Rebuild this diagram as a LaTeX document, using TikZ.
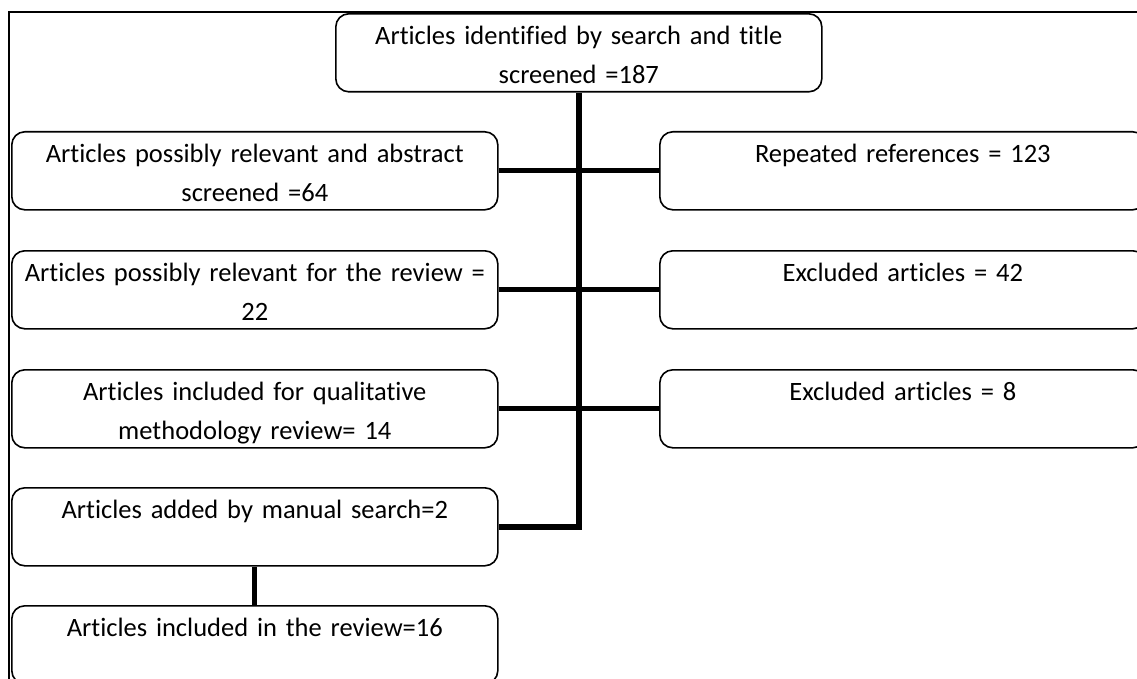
\documentclass[tikz,border=0pt]{standalone}
\usepackage{fontspec}
\setmainfont{Carlito}[Ligatures=NoCommon]
\begin{document}
\begin{tikzpicture}[x=1pt,y=-1pt,
  flowbox/.style={draw=black, line width=1.6pt, rounded corners=13pt, anchor=north west,
    text width=486pt, align=center, inner xsep=0pt, inner ysep=0pt,
    text height=30.5pt, text depth=47.5pt,
    font=\fontsize{26.5}{39}\selectfont},
  trunkline/.style={line width=5.5pt, line join=miter, line cap=butt},
  linkline/.style={line width=5pt}]
\useasboundingbox (0,0) rectangle (1137,679);
\clip (0,0) rectangle (1137,679);
% outer frame
\draw[line width=1.4pt] (9,12) rectangle (1160,700);
% boxes
\node[flowbox] (top) at (335,13) {Articles identified by search and title\\screened =187};
\node[flowbox] (L1) at (11,131) {Articles possibly relevant and abstract\\screened =64};
\node[flowbox] (L2) at (11,250) {Articles possibly relevant for the review =\\22};
\node[flowbox] (L3) at (11,369) {Articles included for qualitative\\methodology review= 14};
\node[flowbox] (L4) at (11,487) {Articles added by manual search=2};
\node[flowbox] (L5) at (11,605) {Articles included in the review=16};
\node[flowbox] (R1) at (659,131) {Repeated references = 123};
\node[flowbox] (R2) at (659,250) {Excluded articles = 42};
\node[flowbox] (R3) at (659,369) {Excluded articles = 8};
% connectors
\draw[linkline] (L1.east) -- (R1.west);
\draw[linkline] (L2.east) -- (R2.west);
\draw[linkline] (L3.east) -- (R3.west);
\draw[trunkline] (top.south) -- (top.south |- L4.east) -- (L4.east);
\draw[linkline] (L4.south) -- (L5.north);
\end{tikzpicture}
\end{document}
